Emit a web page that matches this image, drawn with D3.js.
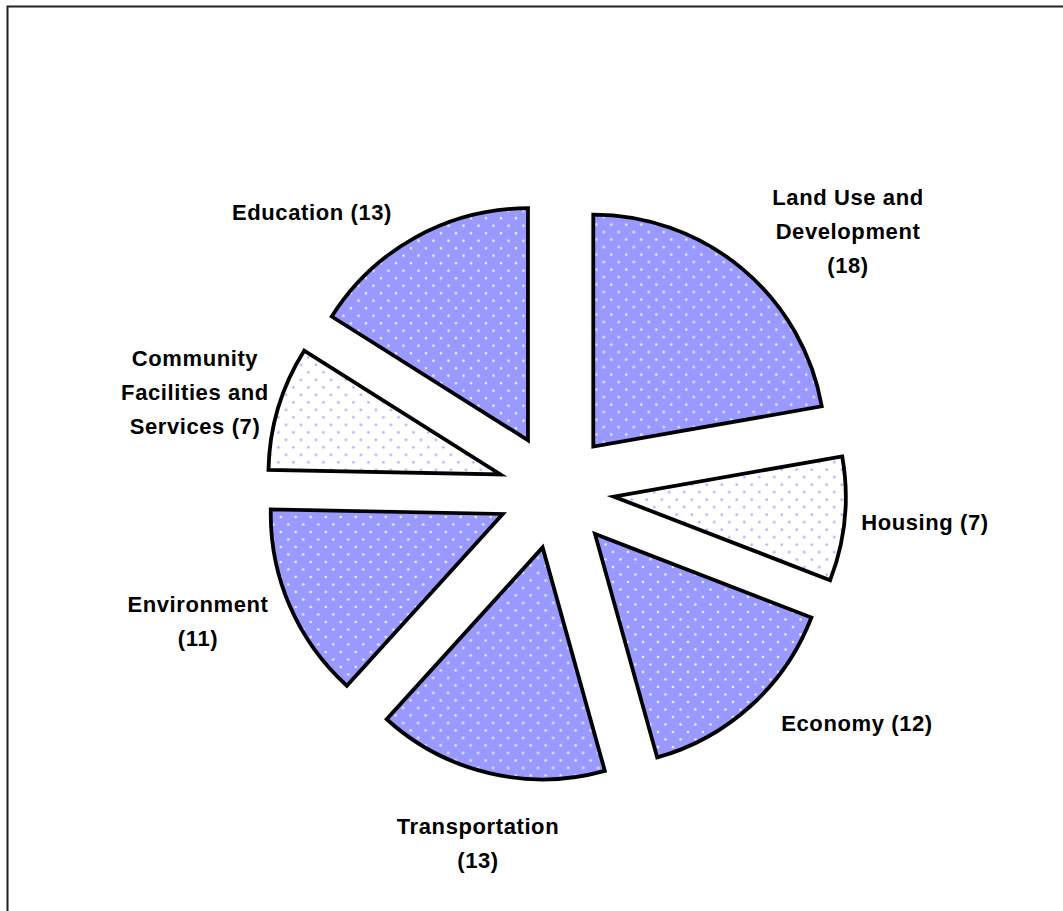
<!DOCTYPE html>
<html>
<head>
<meta charset="utf-8">
<script src="https://cdn.jsdelivr.net/npm/d3@7"></script>
<style>
  html, body { margin: 0; padding: 0; background: #fff; }
  svg { display: block; }
  .lbl { font-family: "Liberation Sans", Arial, sans-serif; font-weight: bold; font-size: 22px; letter-spacing: 0.6px; fill: #000; }
</style>
</head>
<body>
<svg id="chart" width="1063" height="911"></svg>
<script>
// Topics and number of items in each, clockwise from 12 o'clock
const categories = ["Land Use and Development", "Housing", "Economy", "Transportation", "Environment", "Community Facilities and Services", "Education"];
const counts = [18, 7, 12, 13, 11, 7, 13];
// Label lines shown beside each slice
const labelLines = [
  ["Land Use and", "Development", "(18)"],
  ["Housing (7)"],
  ["Economy (12)"],
  ["Transportation", "(13)"],
  ["Environment", "(11)"],
  ["Community", "Facilities and", "Services (7)"],
  ["Education (13)"]
];
// Which slices use the light (white with dots) fill
const lightSlices = ["Housing", "Community Facilities and Services"];
// Label anchor points (centre of first line)
const labelAnchors = [[848, 197], [925, 522], [857, 723], [478, 826], [198, 604], [195, 358], [312, 212]];

const svg = d3.select("#chart");
const W = 1063, H = 911;
const cx = 556, cy = 491, radius = 232, explode = 58;

// Frame around the chart area
svg.append("rect")
  .attr("x", 7.5).attr("y", 6.5)
  .attr("width", W + 10).attr("height", H + 10)
  .attr("fill", "none").attr("stroke", "#222").attr("stroke-width", 2);

// Dot patterns
const defs = svg.append("defs");
const pd = defs.append("pattern").attr("id", "dotsDark")
  .attr("patternUnits", "userSpaceOnUse").attr("width", 15).attr("height", 15);
pd.append("rect").attr("width", 15).attr("height", 15).attr("fill", "#9999ff");
pd.append("circle").attr("cx", 3).attr("cy", 3).attr("r", 1.3).attr("fill", "#eeeeff");
pd.append("circle").attr("cx", 10.5).attr("cy", 10.5).attr("r", 1.3).attr("fill", "#eeeeff");

const pl = defs.append("pattern").attr("id", "dotsLight")
  .attr("patternUnits", "userSpaceOnUse").attr("width", 15).attr("height", 15);
pl.append("rect").attr("width", 15).attr("height", 15).attr("fill", "#ffffff");
pl.append("circle").attr("cx", 3).attr("cy", 3).attr("r", 1.3).attr("fill", "#a8a8ff");
pl.append("circle").attr("cx", 10.5).attr("cy", 10.5).attr("r", 1.3).attr("fill", "#a8a8ff");

const data = categories.map((c, i) => ({ name: c, value: counts[i], lines: labelLines[i], anchor: labelAnchors[i] }));

const pie = d3.pie().value(d => d.value).sort(null);
const arc = d3.arc().innerRadius(0).outerRadius(radius);
const arcs = pie(data);

const g = svg.append("g").attr("transform", `translate(${cx},${cy})`);

g.selectAll("path.slice")
  .data(arcs)
  .join("path")
  .attr("class", "slice")
  .attr("transform", d => {
    const a = (d.startAngle + d.endAngle) / 2;
    return `translate(${explode * Math.sin(a)},${-explode * Math.cos(a)})`;
  })
  .attr("d", arc)
  .attr("fill", d => lightSlices.includes(d.data.name) ? "url(#dotsLight)" : "url(#dotsDark)")
  .attr("stroke", "#000")
  .attr("stroke-width", 3.8)
  .attr("stroke-linejoin", "miter");

// Labels
const lg = svg.append("g");
data.forEach(d => {
  const t = lg.append("text").attr("class", "lbl").attr("text-anchor", "middle")
    .attr("x", d.anchor[0]).attr("y", d.anchor[1]);
  d.lines.forEach((ln, j) => {
    t.append("tspan").attr("x", d.anchor[0]).attr("dy", j === 0 ? "0.35em" : "34px").text(ln);
  });
});
</script>
</body>
</html>
